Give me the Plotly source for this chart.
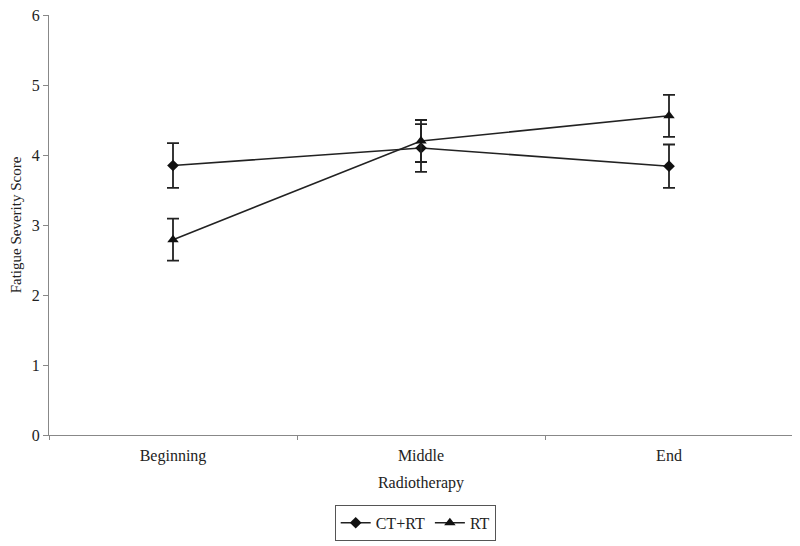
import plotly.graph_objects as go

categories = ["Beginning", "Middle", "End"]
ct_rt = [3.85, 4.10, 3.84]
ct_rt_err = [0.32, 0.34, 0.31]
rt = [2.79, 4.20, 4.56]
rt_err = [0.30, 0.30, 0.30]
y_ticks = [0, 1, 2, 3, 4, 5, 6]

font = "Liberation Serif, Times New Roman, serif"

fig = go.Figure()
fig.add_trace(go.Scatter(
    x=categories, y=ct_rt, name="CT+RT", mode="lines+markers",
    line=dict(color="#222222", width=1.6),
    marker=dict(symbol="diamond", size=9, color="#111111"),
    error_y=dict(type="data", array=ct_rt_err, visible=True, color="#222222", thickness=1.8, width=6),
))
fig.add_trace(go.Scatter(
    x=categories, y=rt, name="RT", mode="lines+markers",
    line=dict(color="#222222", width=1.6),
    marker=dict(symbol="triangle-up", size=10, color="#111111"),
    error_y=dict(type="data", array=rt_err, visible=True, color="#222222", thickness=1.8, width=6),
))

fig.update_layout(
    width=800, height=546,
    margin=dict(l=41, r=15, t=7, b=119, autoexpand=False),
    paper_bgcolor="white", plot_bgcolor="white",
    font=dict(family=font, size=16, color="#222222"),
    showlegend=True,
    legend=dict(orientation="h", xref="container", x=0.509, xanchor="center",
                yref="container", y=0.09, yanchor="top",
                bordercolor="#555555", borderwidth=1, font=dict(size=16),
                itemwidth=30, tracegroupgap=0),
)
fig.update_xaxes(
    type="category", range=[-0.5, 2.5], showline=True, linecolor="#888888", linewidth=1.2,
    ticks="outside", tickson="boundaries", ticklen=4, tickcolor="#888888",
    ticklabelstandoff=6, ticklabeloverflow="allow",
    showgrid=False, zeroline=False,
    title=dict(text="Radiotherapy", font=dict(size=16), standoff=12),
)
fig.update_yaxes(
    range=[0, 6], tickvals=y_ticks, showline=True, linecolor="#888888", linewidth=1.2,
    ticks="outside", ticklen=5, tickcolor="#888888", showgrid=False, zeroline=False,
    ticklabeloverflow="allow",
    title=dict(text="Fatigue Severity Score", font=dict(size=15), standoff=9),
)

fig.write_html("out.html")
